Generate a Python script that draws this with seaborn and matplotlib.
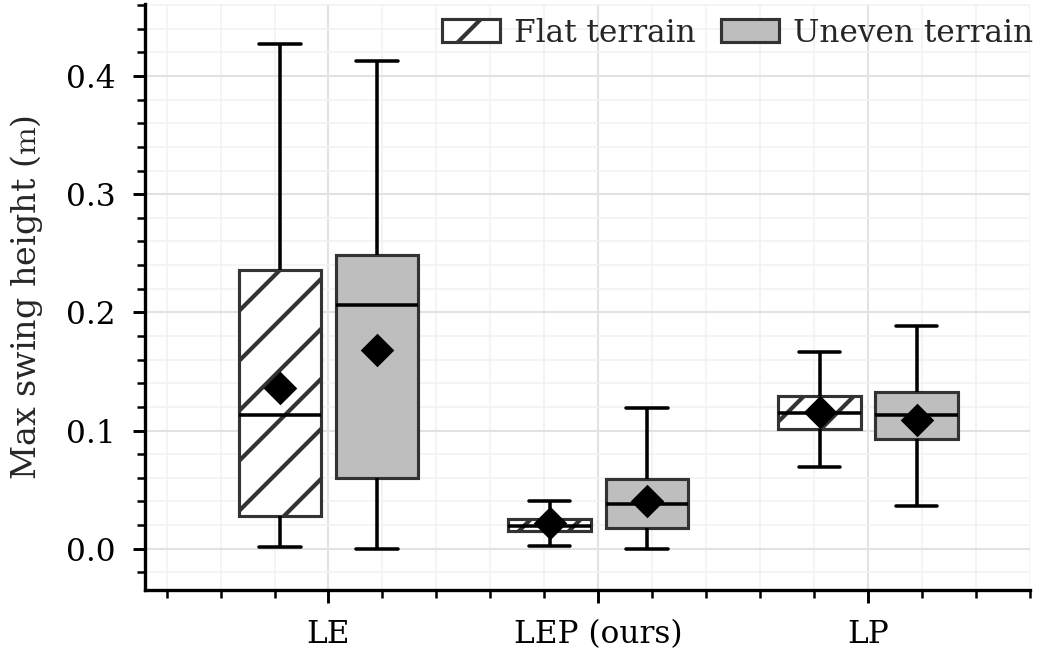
import numpy as np
import pandas as pd
import matplotlib
matplotlib.use("Agg")
import matplotlib.pyplot as plt
from matplotlib.patches import Patch
from matplotlib.ticker import MultipleLocator
import seaborn as sns

methods = ["LE", "LEP (ours)", "LP"]
terrains = ["Flat terrain", "Uneven terrain"]

# five-number summaries (whisker low, q1, median, q3, whisker high)
flat_lo = [0.001, 0.002, 0.069]
flat_q1 = [0.028, 0.0146, 0.1014]
flat_med = [0.113, 0.0194, 0.1152]
flat_q3 = [0.236, 0.0254, 0.1296]
flat_hi = [0.427, 0.040, 0.1665]
flat_mean = [0.136, 0.022, 0.116]

uneven_lo = [0.0, 0.0, 0.036]
uneven_q1 = [0.060, 0.0175, 0.0927]
uneven_med = [0.206, 0.038, 0.1127]
uneven_q3 = [0.2485, 0.059, 0.1325]
uneven_hi = [0.413, 0.119, 0.1885]
uneven_mean = [0.168, 0.040, 0.109]

box_colors = {"Flat terrain": "white", "Uneven terrain": "#bebebe"}
edge_col = "#333333"

# long table: five values per box give exactly these quartiles with whis=(0, 100)
rows = []
mean_rows = []
summaries = {
    "Flat terrain": (flat_lo, flat_q1, flat_med, flat_q3, flat_hi, flat_mean),
    "Uneven terrain": (uneven_lo, uneven_q1, uneven_med, uneven_q3, uneven_hi, uneven_mean),
}
for terrain, (lo, q1, med, q3, hi, mn) in summaries.items():
    for i, m in enumerate(methods):
        for v in (lo[i], q1[i], med[i], q3[i], hi[i]):
            rows.append({"method": m, "terrain": terrain, "height": v})
        mean_rows.append({"method": m, "terrain": terrain, "mean": mn[i]})
df = pd.DataFrame(rows)
mean_df = pd.DataFrame(mean_rows)

sns.set_theme(context="paper", style="ticks")
plt.rcParams["font.family"] = ["DejaVu Serif"]
plt.rcParams["mathtext.fontset"] = "cm"
plt.rcParams.update({
    "font.size": 7.5, "axes.labelsize": 8, "xtick.labelsize": 7.5,
    "ytick.labelsize": 7.5, "legend.fontsize": 7.5,
    "hatch.linewidth": 1.0, "hatch.color": edge_col,
    "axes.edgecolor": "black", "axes.linewidth": 0.8,
    "xtick.color": "black", "ytick.color": "black",
})

fig = plt.figure(figsize=(1045 / 300, 651 / 300))
ax = fig.add_axes([145 / 1045, 1 - 590 / 651, 885 / 1045, 586 / 651])

sns.boxplot(data=df, x="method", y="height", hue="terrain", order=methods,
            hue_order=terrains, palette=box_colors, saturation=1, whis=(0, 100),
            width=0.72, gap=0.15, showfliers=False, linecolor="black", linewidth=0.85,
            boxprops=dict(edgecolor=edge_col, linewidth=0.75),
            medianprops=dict(color="black", linewidth=0.85),
            whiskerprops=dict(color="black", linewidth=0.85),
            capprops=dict(color="black", linewidth=0.85),
            legend=False, ax=ax)

for p in ax.patches:
    if np.allclose(p.get_facecolor()[:3], (1, 1, 1)):
        p.set_hatch("//")
    p.set_edgecolor(edge_col)

sns.pointplot(data=mean_df, x="method", y="mean", hue="terrain", order=methods,
              hue_order=terrains, palette=["black", "black"], markers="D",
              linestyle="none", dodge=0.36, errorbar=None, markersize=4,
              legend=False, ax=ax, zorder=5)

ax.set_xlim(-0.68, 2.6)
ax.set_ylim(-0.035, 0.461)
ax.yaxis.set_major_locator(MultipleLocator(0.1))
ax.yaxis.set_minor_locator(MultipleLocator(0.02))
ax.xaxis.set_minor_locator(MultipleLocator(0.2))
ax.grid(which="major", color="#e2e2e2", linewidth=0.5)
ax.grid(which="minor", color="#f2f2f2", linewidth=0.4)
ax.set_axisbelow(True)
ax.tick_params(which="major", length=3, width=0.7, pad=4)
ax.tick_params(which="minor", length=2, width=0.6)
sns.despine(ax=ax)

ax.set_xlabel("")
ax.set_ylabel(r"Max swing height ($\mathrm{m}$)", labelpad=5)

handles = [Patch(facecolor=box_colors[t], edgecolor=edge_col, linewidth=0.75,
                 hatch="//" if t == "Flat terrain" else None) for t in terrains]
ax.legend(handles, terrains, loc="upper right", bbox_to_anchor=(1.0175, 0.998),
          ncol=2, frameon=False, borderaxespad=0, handlelength=1.85,
          handleheight=0.75, handletextpad=0.45, columnspacing=0.8)

fig.savefig("out.png", dpi=300)
